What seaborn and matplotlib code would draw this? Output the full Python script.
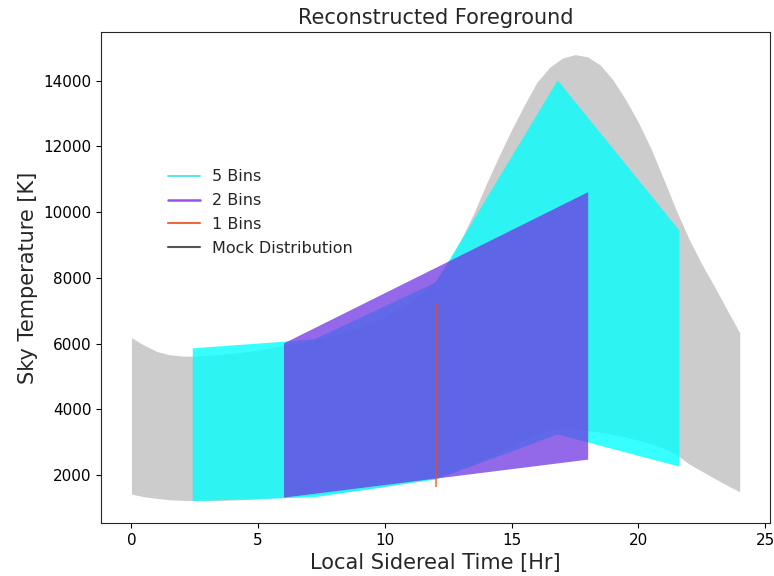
import numpy as np
import matplotlib
matplotlib.use("Agg")
import matplotlib.pyplot as plt
import seaborn as sns
from matplotlib.lines import Line2D

# Mock distribution (min / max envelope)
lst_mock = [0, 0.5, 1, 1.5, 2, 2.5, 3, 4, 5, 6, 7, 8, 9, 10, 11, 12, 12.5, 13, 13.5,
            14, 14.5, 15, 15.5, 16, 16.5, 17, 17.5, 18, 18.5, 19, 19.5, 20, 20.5, 21,
            21.5, 22, 22.5, 23, 23.5, 24]
mock_top = [6180, 5950, 5760, 5660, 5620, 5615, 5640, 5700, 5800, 5940, 6080, 6250, 6480,
            6800, 7250, 7900, 8450, 9150, 9950, 10850, 11700, 12500, 13250, 13950, 14400,
            14680, 14790, 14720, 14470, 14020, 13420, 12730, 11930, 11000, 10050, 9180,
            8420, 7740, 7030, 6330]
mock_bot = [1420, 1340, 1290, 1250, 1230, 1220, 1220, 1240, 1270, 1320, 1380, 1450, 1540,
            1650, 1790, 1960, 2070, 2200, 2350, 2520, 2700, 2880, 3070, 3250, 3380, 3430,
            3420, 3360, 3300, 3230, 3150, 3060, 2950, 2820, 2620, 2340, 2120, 1900, 1690,
            1490]

# 5 bins
lst_5 = [2.4, 7.2, 12.0, 16.8, 21.6]
b5_top = [5870, 6140, 7880, 14020, 9455]
b5_bot = [1222, 1340, 1880, 3250, 2270]

# 2 bins
lst_2 = [6.0, 18.0]
b2_top = [6020, 10620]
b2_bot = [1330, 2485]

# 1 bin
lst_1 = [12.0]
b1_top = [7240]
b1_bot = [1636]

sns.set_style("ticks")
plt.rcParams['font.family'] = ['DejaVu Sans']

fig = plt.figure(figsize=(7.74, 5.76), dpi=100)
ax = fig.add_axes([0.1305, 0.092, 0.8645, 0.852])

ax.fill_between(lst_mock, mock_bot, mock_top, color='grey', alpha=0.4, lw=0)
ax.fill_between(lst_5, b5_bot, b5_top, color='cyan', alpha=0.78, lw=0)
ax.fill_between(lst_2, b2_bot, b2_top, color='#6f35e2', alpha=0.75, lw=0)
ax.vlines(lst_1, b1_bot, b1_top, color='orangered', alpha=0.7, lw=1.3)

ax.set_xticks([0, 5, 10, 15, 20, 25])
ax.set_yticks([2000, 4000, 6000, 8000, 10000, 12000, 14000])
ax.tick_params(labelsize=11, colors='black')
ax.set_xlabel('Local Sidereal Time [Hr]', fontsize=15)
ax.set_ylabel('Sky Temperature [K]', fontsize=15)
ax.set_title('Reconstructed Foreground', fontsize=15)

handles = [Line2D([], [], color='#33e0e8', lw=1.2),
           Line2D([], [], color='#9a50e6', lw=1.8),
           Line2D([], [], color='#ee6a3c', lw=1.5),
           Line2D([], [], color='#555555', lw=1.5)]
labels = ['5 Bins', '2 Bins', '1 Bins', 'Mock Distribution']
ax.legend(handles, labels, loc='upper left', bbox_to_anchor=(0.078, 0.75),
          frameon=False, fontsize=11.5, handlelength=2.0, labelspacing=0.55)

fig.savefig('out.png', dpi=100)
